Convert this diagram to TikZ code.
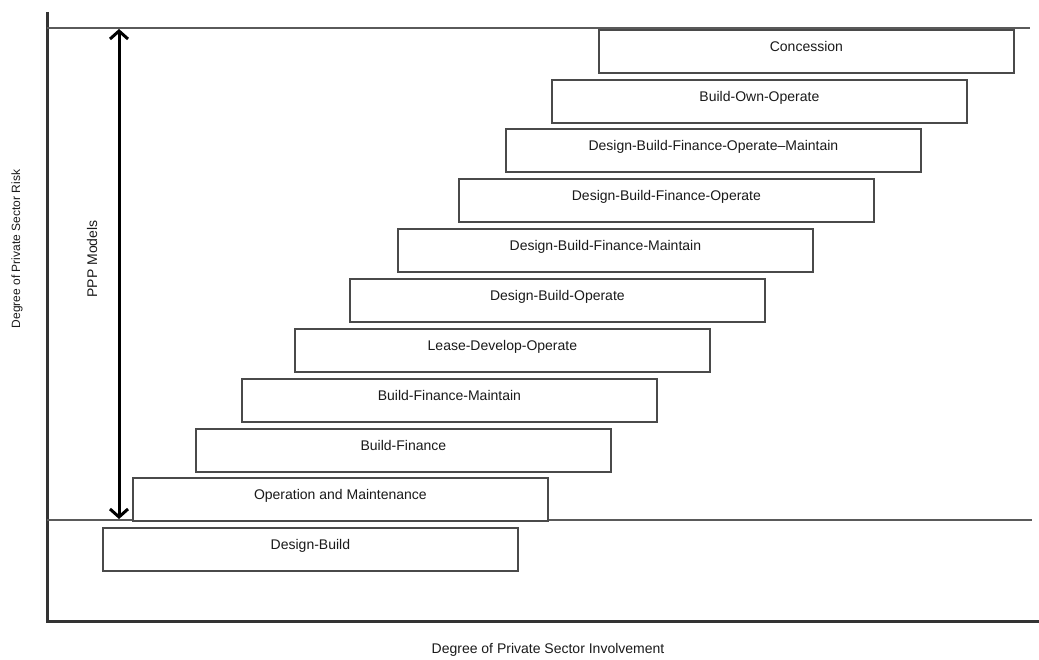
\documentclass[tikz,border=0pt]{standalone}
\usepackage{fontspec}
\setmainfont{Liberation Sans}
\usetikzlibrary{arrows.meta}
\definecolor{boxgray}{HTML}{4A4A4A}
\definecolor{axisgray}{HTML}{333333}
\definecolor{rulegray}{HTML}{5A5A5A}
\definecolor{inkgray}{HTML}{1A1A1A}
\begin{document}
\begin{tikzpicture}[x=1pt,y=-1pt,
  model/.style={draw=boxgray, line width=1.8pt, fill=white,
    minimum width=415pt, minimum height=43pt, inner sep=0pt,
    text height=10pt, text depth=10pt, anchor=north west,
    text=inkgray, font=\fontsize{14}{16}\selectfont},
  axislabel/.style={text=inkgray, font=\fontsize{14}{16}\selectfont, inner sep=0pt},
  sidelabel/.style={text=inkgray, font=\fontsize{12}{14}\selectfont, inner sep=0pt},
  axisline/.style={draw=axisgray, line width=3pt},
  rule/.style={draw=rulegray, line width=1.4pt},
  span/.style={draw=black, line width=3pt,
    {Straight Barb[length=8pt,width=18pt,line width=3pt]}-{Straight Barb[length=8pt,width=18pt,line width=3pt]}}]
\useasboundingbox (0,0) rectangle (1039,660);

% axes
\coordinate (yTop) at (47,12);
\coordinate (origin) at (47,621);
\coordinate (xEnd) at (1039,621);
\draw[axisline] (yTop) -- (origin) -- (xEnd);

% limits of the PPP band
\coordinate (topL) at (47,28);
\coordinate (topR) at (1030,28);
\coordinate (midL) at (47,520);
\coordinate (midR) at (1032,520);
\draw[rule] (topL) -- (topR);
\draw[rule] (midL) -- (midR);

% staircase of delivery models
\node[model] (con)  at (598,29)  {Concession};
\node[model] (boo)  at (551,79)  {Build-Own-Operate};
\node[model] (dbfom) at (505,128) {Design-Build-Finance-Operate--Maintain};
\node[model] (dbfo) at (458,178) {Design-Build-Finance-Operate};
\node[model] (dbfm) at (397,228) {Design-Build-Finance-Maintain};
\node[model] (dbo)  at (349,278) {Design-Build-Operate};
\node[model] (ldo)  at (294,328) {Lease-Develop-Operate};
\node[model] (bfm)  at (241,378) {Build-Finance-Maintain};
\node[model] (bf)   at (195,428) {Build-Finance};
\node[model] (om)   at (132,477) {Operation and Maintenance};
\node[model] (db)   at (102,527) {Design-Build};

% PPP range arrow
\coordinate (pppTop) at (119,29);
\coordinate (pppBot) at (119,519);
\draw[span] (pppTop) -- (pppBot);
\node[axislabel, rotate=90] (ppp) at (92,259) {PPP Models};

% axis titles
\node[sidelabel, rotate=90] (risk) at (17,249) {Degree of Private Sector Risk};
\node[axislabel] (inv) at (548,650) {Degree of Private Sector Involvement};
\end{tikzpicture}
\end{document}
